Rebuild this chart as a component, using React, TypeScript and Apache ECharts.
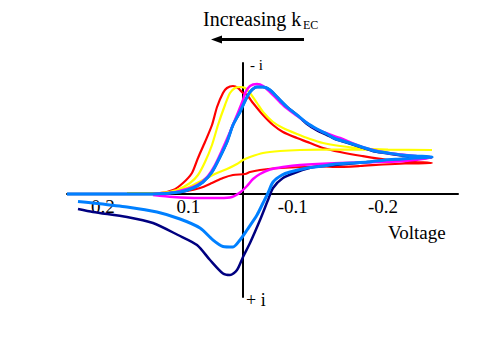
import React, { useEffect, useRef } from 'react';
import * as echarts from 'echarts';

// Voltage (V) tick positions and labels
const tickPositions = [0.2, 0.078, -0.071, -0.2];
const tickLabels = ['0.2', '0.1', '-0.1', '-0.2'];

// Each curve: forward sweep then return sweep, [voltage, current (arb., -i up)]
const redCurve: [number, number][] = [
  [0.2514, 0], [0.1286, 0], [0.1, 0.4], [0.0857, 1.1], [0.0729, 2.1], [0.0643, 3.6], [0.0543, 5.2],
  [0.0443, 6.9], [0.0371, 8.7], [0.0286, 10.1], [0.0229, 10.6], [0.0143, 10.8], [0.0071, 10.6],
  [0, 10.1], [-0.0057, 9.9], [-0.0143, 9.1], [-0.0286, 7.9], [-0.0429, 6.9], [-0.0571, 6.2],
  [-0.0771, 5.6], [-0.0957, 5.1], [-0.1143, 4.6], [-0.1386, 4.2], [-0.17, 3.8], [-0.2071, 3.4],
  [-0.2457, 3.2], [-0.27, 3.1],
  [-0.2314, 3.05], [-0.2, 2.95], [-0.1671, 2.8], [-0.1314, 2.7], [-0.1143, 2.75], [-0.0671, 2.65],
  [-0.0429, 2.55], [-0.0243, 2.4], [-0.01, 2.2], [-0.0029, 2.0], [0.0143, 1.9], [0.0286, 1.6],
  [0.0443, 1.1], [0.0614, 0.6], [0.08, 0.3], [0.1, 0.2], [0.1186, 0.1], [0.1286, 0],
];

const yellowCurve: [number, number][] = [
  [0.1657, 0.1], [0.1186, 0.1], [0.0943, 0.4], [0.0757, 1.1], [0.0643, 1.9], [0.0543, 3.2],
  [0.0443, 4.9], [0.0357, 6.9], [0.0257, 8.9], [0.0186, 10.1], [0.0114, 10.6], [0.0043, 10.7],
  [-0.0029, 10.6], [-0.01, 10.1], [-0.02, 9.1], [-0.0286, 8.2], [-0.0429, 7.2], [-0.0571, 6.6],
  [-0.0771, 6.0], [-0.0957, 5.5], [-0.1143, 5.1], [-0.1386, 4.8], [-0.17, 4.55], [-0.2071, 4.45],
  [-0.27, 4.4],
  [-0.1386, 4.45], [-0.0814, 4.4], [-0.0529, 4.3], [-0.0286, 4.1], [-0.01, 3.7], [0, 3.4],
  [0.0086, 3.0], [0.0229, 2.5], [0.0371, 2.1], [0.0514, 1.6], [0.0657, 1.1], [0.08, 0.6],
  [0.0943, 0.3], [0.1143, 0.1], [0.1657, 0.1],
];

const magentaCurve: [number, number][] = [
  [0.1286, 0], [0.1043, 0.1], [0.0857, 0.4], [0.0657, 0.9], [0.0514, 1.7], [0.04, 2.9], [0.0286, 4.6],
  [0.0186, 6.2], [0.0086, 7.9], [0, 9.4], [-0.0029, 10.1], [-0.01, 10.8], [-0.02, 11.0],
  [-0.0286, 10.8], [-0.0429, 9.9], [-0.0571, 8.9], [-0.0714, 8.1], [-0.0857, 7.4], [-0.1, 6.7],
  [-0.1143, 6.2], [-0.1386, 5.6], [-0.17, 4.7], [-0.2071, 4.1], [-0.2457, 3.8], [-0.27, 3.7],
  [-0.2314, 3.3], [-0.1929, 3.2], [-0.1386, 3.1], [-0.0814, 2.9], [-0.0571, 2.7], [-0.0386, 2.45],
  [-0.0243, 2.0], [-0.0143, 1.5], [-0.0057, 0.8], [0.0043, 0.15], [0.0157, -0.3], [0.0329, -0.4],
  [0.0614, -0.4], [0.1, -0.3], [0.1286, -0.1],
];

const navyCurve: [number, number][] = [
  [0.2514, 0], [0.1286, 0], [0.09, 0.2], [0.0714, 0.6], [0.0571, 1.2], [0.0443, 2.2], [0.0329, 3.7],
  [0.0229, 5.2], [0.0143, 6.9], [0.0043, 8.2], [-0.0029, 9.3], [-0.01, 10.2], [-0.02, 10.7],
  [-0.0286, 10.7], [-0.0386, 10.4], [-0.0486, 9.7], [-0.0629, 8.7], [-0.0771, 7.9], [-0.0914, 7.0],
  [-0.1057, 6.35], [-0.12, 5.9], [-0.1314, 5.5], [-0.15, 5.1], [-0.17, 4.65], [-0.1886, 4.25],
  [-0.2071, 4.05], [-0.2271, 3.85], [-0.2457, 3.7], [-0.27, 3.65],
  [-0.2271, 3.5], [-0.1786, 3.2], [-0.1314, 2.9], [-0.1, 2.7], [-0.0771, 2.2], [-0.0571, 1.6],
  [-0.0429, 0.6], [-0.0357, -0.6], [-0.0243, -2.6], [-0.01, -4.9], [0, -6.3], [0.0086, -7.6],
  [0.0186, -8.1], [0.0286, -7.95], [0.0471, -6.6], [0.0657, -5.1], [0.0929, -4.1], [0.1286, -2.9],
  [0.1657, -2.3], [0.2143, -1.8], [0.2357, -1.5],
];

const blueCurve: [number, number][] = [
  [0.2514, 0], [0.1286, 0], [0.09, 0.2], [0.0714, 0.6], [0.0571, 1.2], [0.0443, 2.2], [0.0329, 3.7],
  [0.0229, 5.2], [0.0143, 6.9], [0.0043, 8.2], [-0.0029, 9.3], [-0.01, 10.2], [-0.02, 10.7],
  [-0.0286, 10.7], [-0.0386, 10.4], [-0.0486, 9.7], [-0.0629, 8.7], [-0.0771, 7.9], [-0.0914, 7.1],
  [-0.1057, 6.5], [-0.12, 6.0], [-0.1314, 5.55], [-0.15, 5.15], [-0.17, 4.7], [-0.1886, 4.3],
  [-0.2071, 4.1], [-0.2271, 3.9], [-0.2457, 3.8], [-0.27, 3.7],
  [-0.2457, 3.6], [-0.2271, 3.5], [-0.2029, 3.4], [-0.1786, 3.2], [-0.1557, 3.1], [-0.1314, 3.0],
  [-0.1143, 2.8], [-0.0914, 2.6], [-0.0671, 2.2], [-0.0557, 1.9], [-0.0429, 1.2], [-0.0357, 0.1],
  [-0.0286, -0.9], [-0.02, -2.1], [-0.0057, -3.6], [0.0043, -4.6], [0.0143, -5.3], [0.0286, -5.25],
  [0.0429, -4.6], [0.0614, -3.4], [0.09, -2.5], [0.1229, -1.8], [0.1657, -1.3], [0.2143, -0.9],
  [0.2357, -0.75],
];

const SERIF = '"Liberation Serif", "Times New Roman", serif';

const Y_MIN = -10.3;
const Y_MAX = 13.1;
const GRID_TOP = 63;
const GRID_BOTTOM = 60;
const CHART_H = 357;

export default function App() {
  const ref = useRef<HTMLDivElement>(null);
  useEffect(() => {
    if (!ref.current) return;
    const chart = echarts.init(ref.current, undefined, { renderer: 'svg' });
    const mk = (name: string, data: [number, number][], color: string, width: number) => ({
      name,
      type: 'line',
      data,
      smooth: 0.25,
      symbol: 'none',
      lineStyle: { color, width },
      itemStyle: { color },
    });
    // place the x axis (line and labels) at current = 0
    const gridH = CHART_H - GRID_TOP - GRID_BOTTOM;
    const zeroOffset = -(gridH * (0 - Y_MIN)) / (Y_MAX - Y_MIN);
    chart.setOption({
      animation: false,
      backgroundColor: '#ffffff',
      grid: { left: 67, right: 42, top: GRID_TOP, bottom: GRID_BOTTOM },
      xAxis: {
        type: 'value',
        inverse: true,
        min: -0.3071,
        max: 0.2514,
        offset: zeroOffset,
        axisLine: { onZero: false, lineStyle: { color: '#000', width: 2 } },
        axisTick: { show: false },
        splitLine: { show: false },
        axisLabel: {
          customValues: tickPositions,
          margin: 3,
          color: '#000',
          fontSize: 19,
          fontFamily: SERIF,
          formatter: (v: number) => {
            const idx = tickPositions.findIndex((p) => Math.abs(p - v) < 1e-6);
            return idx >= 0 ? tickLabels[idx] : '';
          },
        },
      },
      yAxis: {
        type: 'value',
        min: Y_MIN,
        max: Y_MAX,
        axisLine: { show: true, onZero: true, lineStyle: { color: '#000', width: 2 } },
        axisTick: { show: false },
        axisLabel: { show: false },
        splitLine: { show: false },
      },
      series: [
        mk('red', redCurve, '#ff0000', 2.2),
        mk('yellow', yellowCurve, '#ffff00', 2.2),
        mk('navy', navyCurve, '#000080', 2.5),
        mk('magenta', magentaCurve, '#ff00ff', 2.5),
        mk('blue', blueCurve, '#0080ff', 3),
      ],
      graphic: [
        {
          type: 'text', x: 203, y: 19.3,
          style: { text: 'Increasing k', fill: '#000', fontSize: 20, fontFamily: SERIF, align: 'left', verticalAlign: 'middle' },
        },
        {
          type: 'text', x: 303, y: 25.3,
          style: { text: 'EC', fill: '#000', fontSize: 12, fontFamily: SERIF, align: 'left', verticalAlign: 'middle' },
        },
        { type: 'line', shape: { x1: 304, y1: 39.5, x2: 219, y2: 39.5 }, style: { stroke: '#000', lineWidth: 3 } },
        { type: 'polygon', shape: { points: [[211, 39.5], [222, 35.5], [222, 43.5]] }, style: { fill: '#000' } },
        {
          type: 'text', x: 250, y: 65,
          style: { text: '- i', fill: '#000', fontSize: 15, fontFamily: SERIF, align: 'left', verticalAlign: 'middle' },
        },
        {
          type: 'text', x: 246, y: 300,
          style: { text: '+ i', fill: '#000', fontSize: 18, fontFamily: SERIF, align: 'left', verticalAlign: 'middle' },
        },
        {
          type: 'text', x: 388, y: 232,
          style: { text: 'Voltage', fill: '#000', fontSize: 19, fontFamily: SERIF, align: 'left', verticalAlign: 'middle' },
        },
      ],
    });
    return () => chart.dispose();
  }, []);
  return <div ref={ref} style={{ position: 'fixed', left: 0, top: 0, width: 500, height: 357, background: '#fff' }} />;
}
